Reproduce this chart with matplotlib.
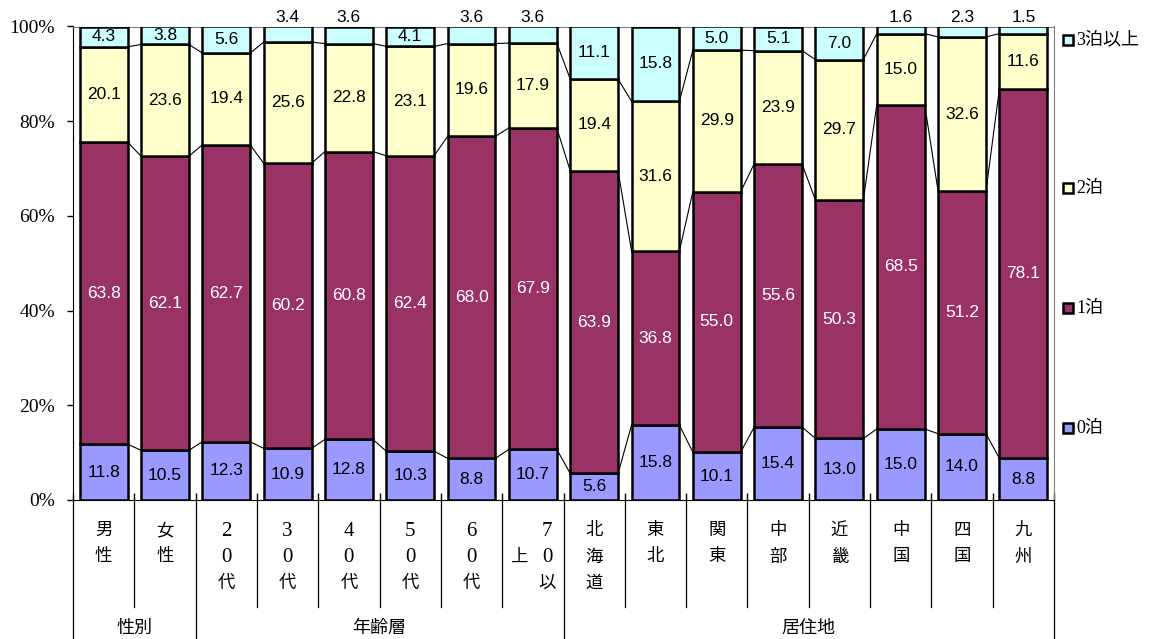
import matplotlib
matplotlib.use('Agg')
import matplotlib.pyplot as plt
from matplotlib.patches import Rectangle
import numpy as np

plt.rcParams['font.family'] = ['Liberation Serif', 'Noto Sans CJK JP', 'DejaVu Sans']

categories = ['男性', '女性', '20代', '30代', '40代', '50代', '60代', '70以上',
              '北海道', '東北', '関東', '中部', '近畿', '中国', '四国', '九州']
groups = ['性別', '年齢層', '居住地']
group_spans = [(0, 1), (2, 7), (8, 15)]

series_names = ['0泊', '1泊', '2泊', '3泊以上']
nights0 = [11.8, 10.5, 12.3, 10.9, 12.8, 10.3, 8.8, 10.7, 5.6, 15.8, 10.1, 15.4, 13.0, 15.0, 14.0, 8.8]
nights1 = [63.8, 62.1, 62.7, 60.2, 60.8, 62.4, 68.0, 67.9, 63.9, 36.8, 55.0, 55.6, 50.3, 68.5, 51.2, 78.1]
nights2 = [20.1, 23.6, 19.4, 25.6, 22.8, 23.1, 19.6, 17.9, 19.4, 31.6, 29.9, 23.9, 29.7, 15.0, 32.6, 11.6]
nights3 = [4.3, 3.8, 5.6, 3.4, 3.6, 4.1, 3.6, 3.6, 11.1, 15.8, 5.0, 5.1, 7.0, 1.6, 2.3, 1.5]
yticks = [0, 20, 40, 60, 80, 100]

colors = ['#9999FF', '#993366', '#FFFFCC', '#CCFFFF']
text_colors = ['black', 'white', 'black', 'black']

W, H = 1171, 639
fig = plt.figure(figsize=(W / 100, H / 100), dpi=100)
ax_top, ax_bot, ax_l, ax_r = 26.5, 500, 73, 1054
ax = fig.add_axes([ax_l / W, (H - ax_bot) / H, (ax_r - ax_l) / W, (ax_bot - ax_top) / H])

data = np.array([nights0, nights1, nights2, nights3])
x = np.arange(len(categories))
bw = 0.78
bottom = np.zeros(len(categories))
for k in range(4):
    ax.bar(x, data[k], bw, bottom=bottom, color=colors[k], edgecolor='black',
           linewidth=1.8, zorder=3)
    for i, v in enumerate(data[k]):
        if k == 3 and v < 3.7:
            ypos = 102.0
        else:
            ypos = bottom[i] + v / 2
        ax.text(i, ypos, f'{v:.1f}', ha='center', va='center', fontsize=12.5,
                color=text_colors[k], family='Liberation Sans', zorder=5, clip_on=False)
    bottom = bottom + data[k]
    # series lines
    if k < 3:
        for i in range(len(categories) - 1):
            ax.plot([i + bw / 2, i + 1 - bw / 2], [bottom[i], bottom[i + 1]],
                    color='black', lw=0.8, zorder=2)

ax.set_xlim(-0.5, len(categories) - 0.5)
ax.set_ylim(0, 100)
ax.set_yticks(yticks)
ax.set_yticklabels([f'{t}%' for t in yticks], fontsize=14)
ax.tick_params(axis='y', direction='out', length=4, width=1, pad=9)
ax.set_xticks(np.arange(len(categories) + 1) - 0.5)
ax.set_xticklabels([])
ax.tick_params(axis='x', direction='in', length=5, width=1)
for s in ['top', 'right']:
    ax.spines[s].set_color('#808080')
for s in ['left', 'bottom']:
    ax.spines[s].set_color('black')

trans = ax.get_xaxis_transform()
hpx = ax_bot - ax_top


def yax(py):
    return (ax_bot - py) / hpx


# category boundaries below axis
group_edges = {-0.5, 1.5, 7.5, 15.5}
for b in np.arange(len(categories) + 1) - 0.5:
    yend = yax(H + 5) if b in group_edges else yax(607)
    ax.plot([b, b], [0, yend], transform=trans, color='black', lw=0.9, clip_on=False)

# vertical category labels
row_y = [531, 557.5, 584]
col_dx = 28.5 / ((ax_r - ax_l) / len(categories))
for i, lab in enumerate(categories):
    cols = [lab[j:j + 3] for j in range(0, len(lab), 3)]
    n = len(cols)
    for c, col in enumerate(cols):
        cx = i + ((n - 1) / 2 - c) * col_dx
        start = 0 if c == 0 else (3 - len(col)) // 2
        for r, ch in enumerate(col):
            fs = 15 if ch.isdigit() else 12.5
            ax.text(cx, yax(row_y[start + r]), ch, transform=trans, ha='center',
                    va='center', fontsize=fs, clip_on=False)

for g, (a, b) in zip(groups, group_spans):
    ax.text((a + b) / 2, yax(628), g, transform=trans, ha='center', va='center',
            fontsize=13, clip_on=False)

# legend
leg_y = [428, 308, 188, 40]
for k in range(4):
    yc = leg_y[k]
    fig.patches.append(Rectangle((1063 / W, 1 - (yc + 5) / H), 10 / W, 10 / H,
                                 transform=fig.transFigure, facecolor=colors[k],
                                 edgecolor='black', linewidth=1.8))
    fig.text(1076 / W, 1 - yc / H, series_names[k], ha='left', va='center', fontsize=13)

fig.savefig('out.png', dpi=100)
